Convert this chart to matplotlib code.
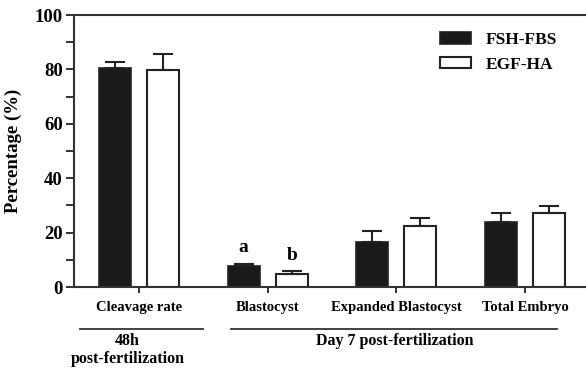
import numpy as np
import matplotlib
matplotlib.use('Agg')
import matplotlib.pyplot as plt
import matplotlib.transforms as mtransforms

categories = ['Cleavage rate', 'Blastocyst', 'Expanded Blastocyst', 'Total Embryo']
fsh_fbs = [80.5, 7.7, 16.5, 24.0]
fsh_fbs_err = [2.2, 0.8, 4.1, 3.2]
egf_ha = [79.7, 4.7, 22.4, 27.1]
egf_ha_err = [6.0, 1.2, 2.9, 2.7]
series_names = ['FSH-FBS', 'EGF-HA']

plt.rcParams['font.family'] = ['Liberation Serif', 'DejaVu Serif']
plt.rcParams['font.weight'] = 'bold'

fig = plt.figure(figsize=(5.86, 3.69), dpi=100)
ax = fig.add_axes([74 / 586, 82 / 369, 512 / 586, 272 / 369])

x = np.arange(len(categories))
w = 0.25
off = 0.187
lc = '#222222'
ax.bar(x - off, fsh_fbs, w, color='#1a1a1a', edgecolor=lc, linewidth=1.2,
       yerr=[np.zeros(4), fsh_fbs_err], capsize=7,
       error_kw=dict(elinewidth=1.5, capthick=1.5, ecolor=lc), label=series_names[0])
ax.bar(x + off, egf_ha, w, color='white', edgecolor=lc, linewidth=1.5,
       yerr=[np.zeros(4), egf_ha_err], capsize=7,
       error_kw=dict(elinewidth=1.5, capthick=1.5, ecolor=lc), label=series_names[1])

ax.set_xlim(-0.505, 3.474)
ax.set_ylim(0, 100)
ax.set_yticks(np.arange(0, 101, 20))
ax.set_yticks(np.arange(10, 100, 20), minor=True)
ax.set_xticks(x)
ax.set_xticklabels(categories, fontsize=10.5, fontweight='bold')
for lab in ax.get_yticklabels():
    lab.set_fontsize(13.5)
    lab.set_fontweight('bold')
ax.tick_params(axis='y', which='major', length=6, width=1.3, color=lc, pad=2)
ax.tick_params(axis='y', which='minor', length=6, width=1.3, color=lc)
ax.tick_params(axis='x', length=4, width=1.3, color=lc, pad=6)
ax.set_ylabel('Percentage (%)', fontsize=13.5, fontweight='bold', labelpad=9)

for s in ['left', 'bottom', 'top']:
    ax.spines[s].set_linewidth(1.5)
    ax.spines[s].set_color('#333333')
ax.spines['right'].set_visible(False)

# significance letters
ax.text(x[1] - off, fsh_fbs[1] + fsh_fbs_err[1] + 3, 'a', ha='center', va='bottom', fontsize=14, fontweight='bold')
ax.text(x[1] + off, egf_ha[1] + egf_ha_err[1] + 2.5, 'b', ha='center', va='bottom', fontsize=14, fontweight='bold')

# legend
ax.legend(loc='upper right', bbox_to_anchor=(0.975, 0.995), frameon=False,
          handlelength=1.75, handleheight=0.65, handletextpad=0.9, labelspacing=0.5,
          prop=dict(weight='bold', size=12.5))

# group lines below axis
trans = mtransforms.blended_transform_factory(ax.transData, ax.transAxes)
ax.plot([-0.46, 0.50], [-0.154, -0.154], color='#333333', lw=1.3, transform=trans, clip_on=False)
ax.plot([0.715, 3.25], [-0.154, -0.154], color='#333333', lw=1.3, transform=trans, clip_on=False)
ax.text(-0.09, -0.20, '48h', transform=trans, ha='center', va='center', fontsize=11.5, fontweight='bold')
ax.text(-0.09, -0.265, 'post-fertilization', transform=trans, ha='center', va='center', fontsize=11.5, fontweight='bold')
ax.text(1.99, -0.20, 'Day 7 post-fertilization', transform=trans, ha='center', va='center', fontsize=11.5, fontweight='bold')

fig.savefig('out.png', dpi=100)
